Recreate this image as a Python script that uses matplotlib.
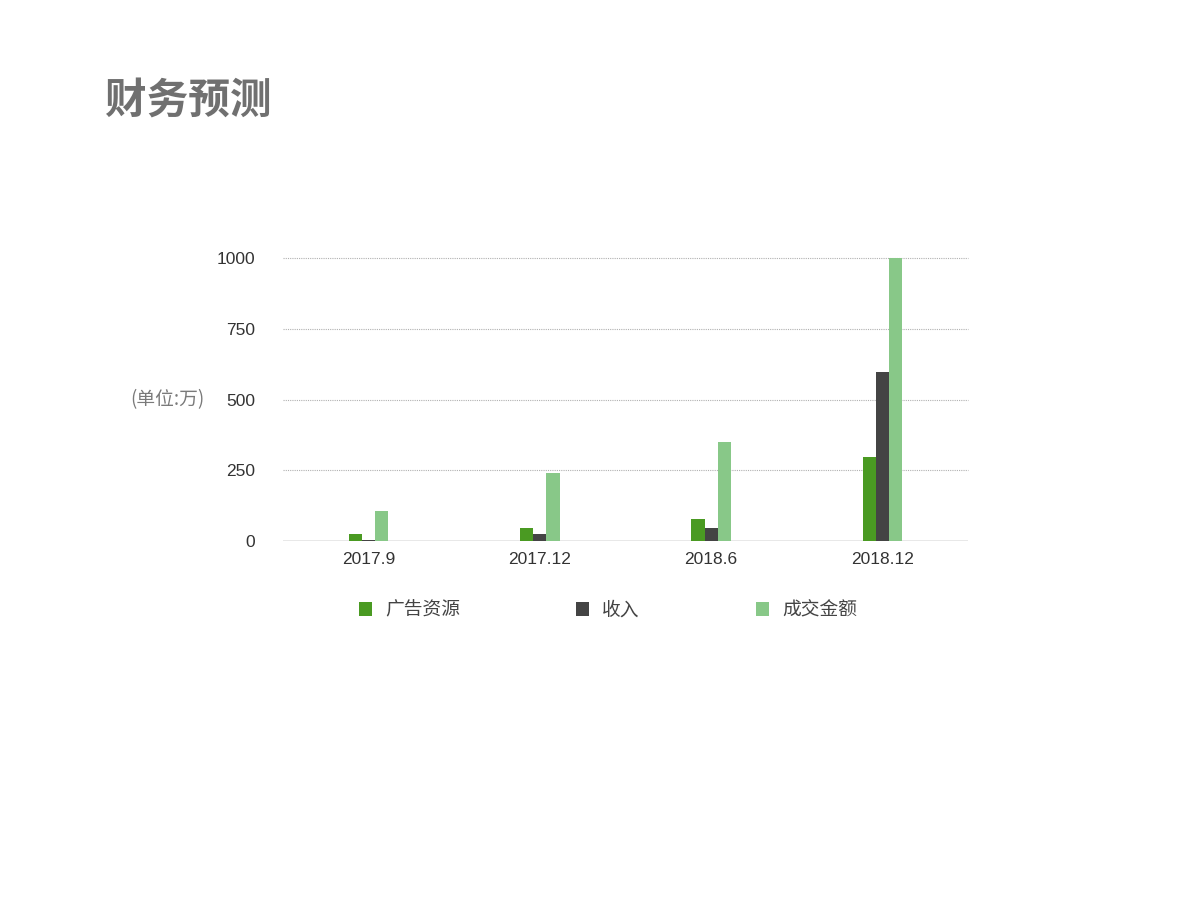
import matplotlib
matplotlib.use("Agg")
import matplotlib.pyplot as plt
from matplotlib.patches import Patch
import numpy as np

plt.rcParams['font.family'] = ['Noto Sans CJK SC', 'DejaVu Sans']

categories = ["2017.9", "2017.12", "2018.6", "2018.12"]
series_names = ["广告资源", "收入", "成交金额"]
ad_resource = [25, 46, 78, 298]
revenue = [5, 26, 46, 598]
gmv = [106, 240, 350, 1000]
yticks = [0, 250, 500, 750, 1000]

colors = ["#4a9a22", "#444444", "#88c888"]

fig = plt.figure(figsize=(12, 9), dpi=100)
fig.patch.set_facecolor("white")
ax = fig.add_axes([283/1200, 1-541/900, 685/1200, 283/900])

x = np.arange(len(categories))
w = 0.077
for i, (vals, c) in enumerate(zip([ad_resource, revenue, gmv], colors)):
    ax.bar(x + (i-1)*w, vals, width=w, color=c, zorder=3, clip_on=False, linewidth=0)

ax.set_xlim(-0.5, len(categories)-0.5)
ax.set_ylim(0, 1000)
ax.set_yticks(yticks)
ax.set_yticklabels([str(t) for t in yticks])
ax.set_xticks(x)
ax.set_xticklabels(categories)
ax.tick_params(axis='both', length=0, labelsize=12.5, colors="#333333")
for lab in ax.get_xticklabels() + ax.get_yticklabels():
    lab.set_family(['Liberation Sans', 'DejaVu Sans'])
ax.tick_params(axis='y', pad=20)
ax.tick_params(axis='x', pad=8)
for s in ax.spines.values():
    s.set_visible(False)
for t in yticks[1:]:
    ax.axhline(t, color="#b0b0b0", linestyle=(0, (1, 1)), linewidth=0.8, zorder=1, clip_on=False)
ax.axhline(0, color="#e6e6e6", linewidth=2, zorder=2)

ax.set_ylabel("(单位:万)", rotation=0, ha="right", va="center", fontsize=13.5, color="#7a7a7a")
ax.yaxis.set_label_coords(-0.114, 0.5)

fig.text(105/1200, 1-101/900, "财务预测", fontsize=30, fontweight="bold", color="#707070",
         ha="left", va="center")

handles = [Patch(facecolor=c, edgecolor='none') for c in colors]
fig.legend(handles, series_names, loc="center", bbox_to_anchor=(608/1200, 1-610/900),
           ncol=3, frameon=False, fontsize=13.5, handlelength=0.7, handleheight=0.7,
           handletextpad=0.7, columnspacing=6.2, labelcolor="#444444")

fig.savefig("out.png", dpi=100, facecolor="white")
